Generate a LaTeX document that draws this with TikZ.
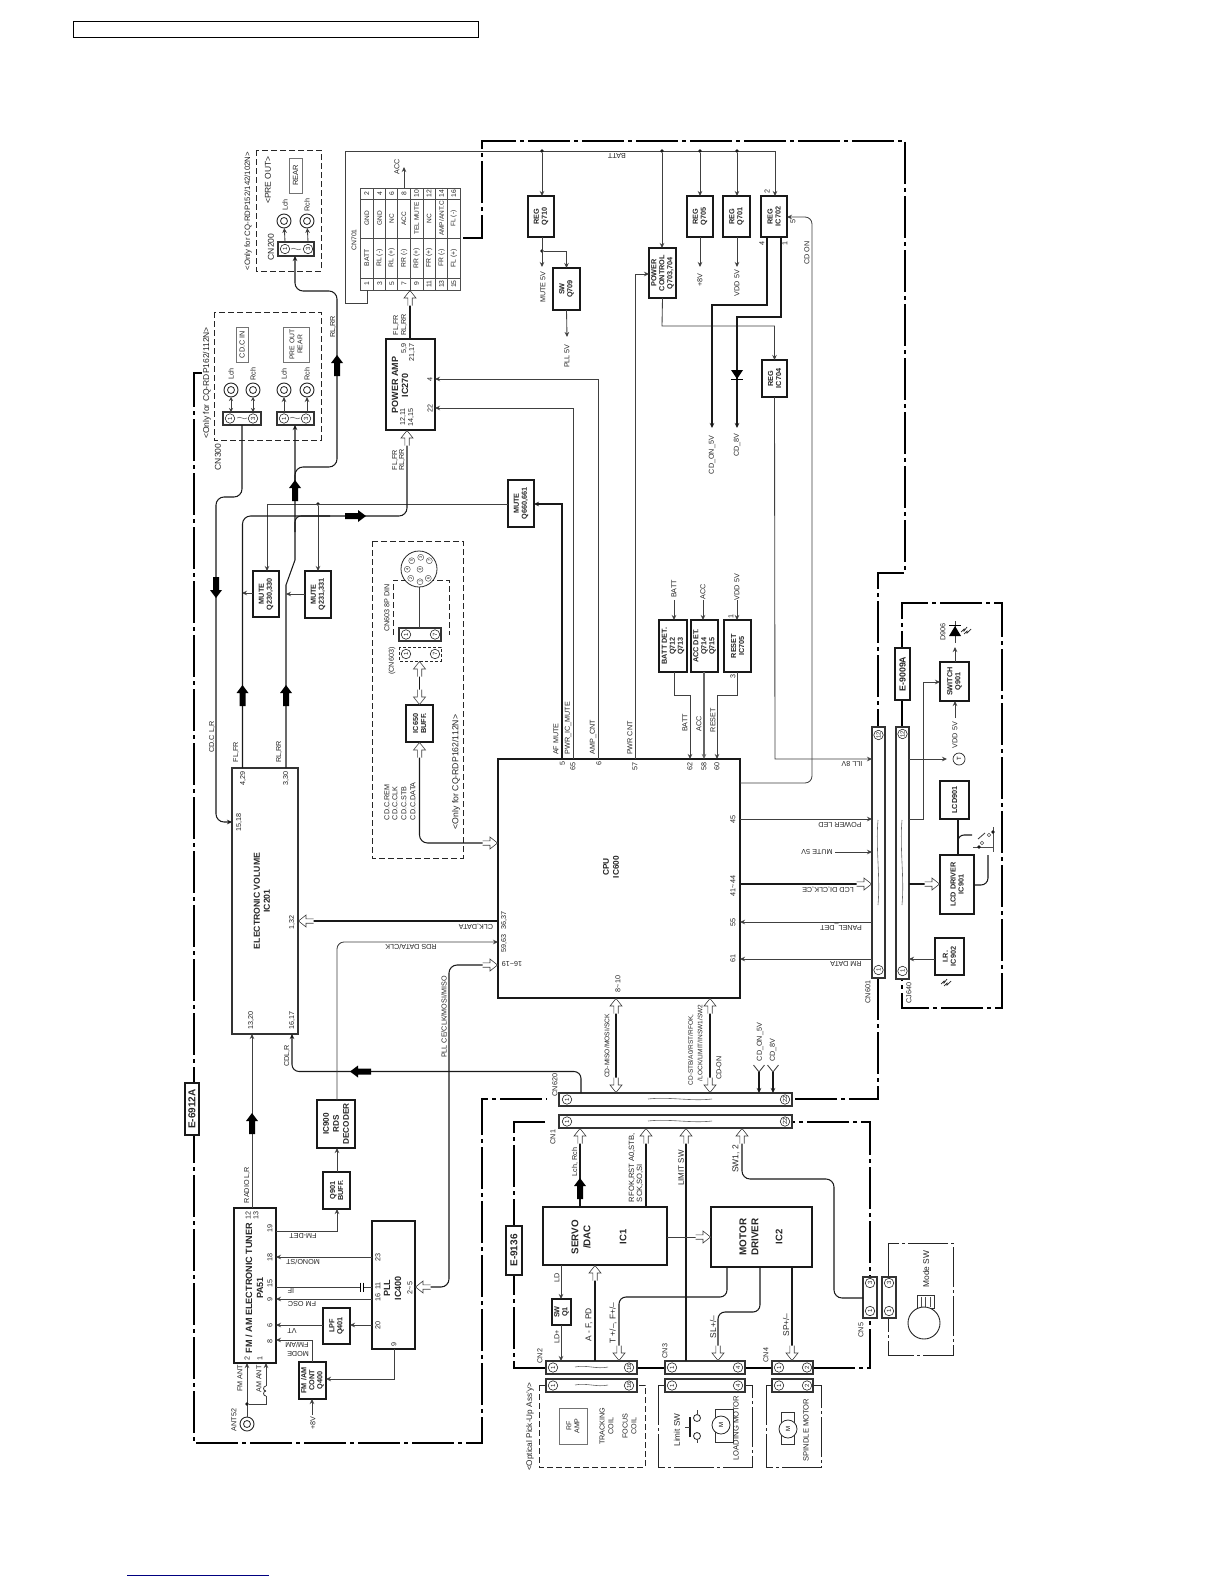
\documentclass[tikz,border=0pt]{standalone}
\usepackage{fontspec}
\setmainfont{Liberation Sans}
\usetikzlibrary{arrows.meta,calc}
\newcommand\FS[2]{\fontsize{#1}{#2}\selectfont}
\definecolor{wgray}{gray}{0.25}
\tikzset{
 txt/.style={font=\FS{7.2}{8},inner sep=0,outer sep=0,align=center,text=black!85},
 vt/.style={txt,rotate=90},
 inv/.style={txt,rotate=180},
 bx/.style={draw=black!90,line width=1.5pt,fill=white,inner sep=0,outer sep=0},
 bxthin/.style={draw=black!80,line width=1.1pt,fill=white,inner sep=0,outer sep=0},
 graybx/.style={draw=black!55,line width=0.9pt,fill=white,inner sep=0,outer sep=0},
 boxt/.style={vt,font=\bfseries\FS{7.3}{8}},
 wr/.style={draw=wgray,line width=0.85pt},
 wk/.style={draw=black!90,line width=1.05pt},
 wg/.style={draw=black!60,line width=1.2pt},
 ar/.style={-{Stealth[length=5pt,width=4.5pt]}},
 frame/.style={draw=black,line width=2.6pt,dash pattern=on 42pt off 4pt on 4pt off 4pt},
 dashb/.style={draw=black!85,line width=1pt,dash pattern=on 6pt off 3pt},
 ddb/.style={draw=black!85,line width=1pt,dash pattern=on 40pt off 3pt on 3pt off 3pt},
 cpinn/.style={circle,draw=black!85,line width=0.6pt,fill=white,minimum size=9.5pt,inner sep=0,outer sep=0,rotate=90,font=\FS{6}{6},text=black!85},
 hollowtip/.style={draw=black!75,line width=0.6pt,fill=white},
 dotn/.style={circle,fill=black!90,minimum size=3.6pt,inner sep=0,outer sep=0},
 wave/.style={draw=black!60,line width=0.6pt},
}
\newcounter{lbn}
\newcommand\LB[4][]{\stepcounter{lbn}\node[vt,#1] (lb\thelbn) at (#2,#3) {#4};}
\newcommand\LI[4][]{\stepcounter{lbn}\node[inv,#1] (lb\thelbn) at (#2,#3) {#4};}
\newcommand\BX[7][bx]{\node[#1,minimum width={#5-#3},minimum height={#6-#4}] (#2) at ({(#3+#5)/2},{(#4+#6)/2}) {};\node[boxt] (#2t) at (#2.center) {#7};}
\newcommand\CP[4]{\node[cpinn] (#1) at (#2,#3) {#4};}
\newcommand\HA[3]{\draw[hollowtip,shift={(#1,#2)},rotate=#3] (-15,2.2)--(-7.5,2.2)--(-7.5,6)--(0,0)--(-7.5,-6)--(-7.5,-2.2)--(-15,-2.2);}
\newcommand\FA[3]{\fill[black,shift={(#1,#2)},rotate=#3] (0,0)--(-8,6)--(-8,3)--(-21,3)--(-21,-3)--(-8,-3)--(-8,-6)--cycle;}
\newcommand\WH[3]{\draw[wave] (#1,#3) .. controls ({#1+(#2-#1)/3},{#3-2.5}) and ({#1+2*(#2-#1)/3},{#3+2.5}) .. (#2,#3);}
\newcommand\WV[3]{\draw[wave] (#3,#1) .. controls ({#3-2.5},{#1+(#2-#1)/3}) and ({#3+2.5},{#1+2*(#2-#1)/3}) .. (#3,#2);}
\newcommand\JK[3]{\node[circle,draw=black!85,line width=0.9pt,fill=white,minimum size=14pt,inner sep=0,outer sep=0] (#1) at (#2,#3) {};\draw[black!85,line width=0.8pt] (#1.center) circle (3.5pt);}
\newcommand\BOLT[2]{\draw[black!85,line width=0.7pt,shift={(#1,#2)}] (0,3)--(3,0)--(3,2)--(7,-2);\draw[black!85,line width=0.7pt,shift={(#1,#2)}] (-3,1)--(0,-2)--(0,0)--(3,-4);}
\begin{document}
\begin{tikzpicture}[x=1pt,y=-1pt]
\useasboundingbox (0,0) rectangle (1224,1584);
\fill[white] (0,0) rectangle (1224,1584);
% header and footer rule
\draw[black,line width=1pt] (73,21.5) rectangle (478,38);
\draw[blue!50!black,line width=1pt] (127,1575)--(269,1575);
% board frames
\draw[frame] (202,373)--(194,373)--(194,1443)--(482,1443)--(482,1099)--(547,1099);
\draw[frame] (463,238)--(482,238)--(482,141)--(905,141)--(905,573)--(878,573)--(878,727);
\draw[frame] (878,978)--(878,1099)--(795,1099);
\draw[frame] (545,1122)--(514,1122)--(514,1368)--(546,1368);
\draw[frame] (637,1368)--(665,1368);
\draw[frame] (745,1368)--(772,1368);
\draw[frame] (813,1368)--(870,1368)--(870,1122)--(792,1122);
\draw[frame] (902,727)--(902,603)--(1002,603)--(1002,1008)--(902,1008)--(902,979);
% board name boxes
\BX{b6912}{185}{1083}{199}{1135}{}
\LB[font=\bfseries\FS{10}{11}]{192}{1109}{E-6912A}
\BX{b9136}{506}{1226}{522}{1275}{}
\LB[font=\bfseries\FS{10}{11}]{514}{1250.5}{E-9136}
\BX{b9009}{895}{648}{910}{700}{}
\LB[font=\bfseries\FS{8.8}{10}]{902.5}{674}{E-9009A}
% option frames
\draw[dashb] (256,150) rectangle (321,271);
\draw[dashb] (214,312) rectangle (321,440);
\draw[dashb] (372,541) rectangle (463,858);
\draw[dashb] (393,635)--(393,580)--(449,580)--(449,635);
\draw[dashb] (539,1385) rectangle (645,1467);
\draw[ddb] (658,1385) rectangle (752,1467);
\draw[ddb] (766,1385) rectangle (821,1467);
\draw[ddb] (888,1243) rectangle (953,1355);
% major blocks
\BX{cpu}{498}{759}{740}{998}{}
\BX[bxthin]{ev}{232}{768}{298}{1034}{}
\BX{pamp}{386}{339}{435}{430}{}
\BX{tuner}{234}{1208}{276}{1363}{}
\BX{pll}{372}{1221}{415}{1349}{}
\BX{servo}{543}{1207}{667}{1265}{}
\BX{motor}{711}{1207}{812}{1267}{}
\BX{regq710}{528}{196}{554}{237}{REG\\Q710}
\BX{swq709}{553}{268}{580}{310}{SW\\Q709}
\BX{pwrc}{649}{248}{676}{298}{POWER\\CONTROL\\Q703,704}
\BX{regq705}{687}{196}{713}{237}{REG\\Q705}
\BX{regq701}{723}{196}{750}{237}{REG\\Q701}
\BX{regic702}{761}{196}{787}{237}{REG\\IC702}
\BX{regic704}{762}{360}{787}{397}{REG\\IC704}
\BX{mute660}{508}{480}{534}{527}{MUTE\\Q660,661}
\BX{mute230}{253}{571}{279}{617}{MUTE\\Q230,330}
\BX{mute231}{305}{571}{331}{618}{MUTE\\Q231,331}
\BX{buff650}{406}{705}{433}{742}{IC650\\BUFF.}
\BX{battdet}{659}{620}{687}{672}{BATT DET.\\Q712\\Q713}
\BX{accdet}{691}{620}{718}{672}{ACC DET.\\Q714\\Q715}
\BX{reset}{724}{620}{751}{672}{RESET\\IC705}
\BX{q901}{323}{1172}{350}{1209}{Q901\\BUFF.}
\BX{rds}{317}{1100}{355}{1148}{}
\LB[font=\bfseries\FS{8.2}{10}]{336}{1124}{IC900\\RDS\\DECODER}
\BX{lpf}{323}{1308}{350}{1344}{LPF\\Q401}
\BX{cont}{299}{1362}{326}{1399}{FM /AM\\CONT\\Q400}
\BX{swq1}{552}{1299}{571}{1325}{SW\\Q1}
\BX{swq901}{940}{662}{969}{701}{SWITCH\\Q901}
\BX{lcd}{940}{781}{969}{819}{LCD901}
\BX{lcddrv}{940}{855}{974}{914}{LCD DRIVER\\IC901}
\BX{ir}{935}{938}{964}{975}{I.R.\\IC902}
% big block captions
\LB[font=\bfseries\FS{8.7}{10}]{257}{901}{ELECTRONIC VOLUME}
\LB[font=\bfseries\FS{8.7}{10}]{267}{901}{IC201}
\LB[font=\bfseries\FS{8.3}{10}]{606}{867}{CPU}
\LB[font=\bfseries\FS{8.3}{10}]{616}{867}{IC600}
\LB[font=\bfseries\FS{9}{10}]{395}{385}{POWER AMP}
\LB[font=\bfseries\FS{9}{10}]{405}{385}{IC270}
\LB[font=\bfseries\FS{9.1}{10}]{249}{1288}{FM / AM ELECTRONIC TUNER}
\LB[font=\bfseries\FS{9}{10}]{260}{1288}{PA51}
\LB[font=\bfseries\FS{9}{10}]{387}{1288}{PLL}
\LB[font=\bfseries\FS{9}{10}]{398}{1288}{IC400}
\LB[font=\bfseries\FS{9.8}{12}]{575}{1237}{SERVO}
\LB[font=\bfseries\FS{9.8}{12}]{587}{1237}{/DAC}
\LB[font=\bfseries\FS{9.5}{12}]{623}{1237}{IC1}
\LB[font=\bfseries\FS{9.9}{12}]{743}{1237}{MOTOR}
\LB[font=\bfseries\FS{9.9}{12}]{755}{1237}{DRIVER}
\LB[font=\bfseries\FS{9.5}{12}]{779}{1237}{IC2}
% CN701 table
\node[draw=black!70,line width=1pt,inner sep=0,outer sep=0,fill=white,minimum width=100pt,minimum height=102pt] (cn701) at (410,239) {};
\foreach \xx in {373.7,385.7,397.7,410.3,423,435.3,447.7} \draw[black!70,line width=0.7pt] (\xx,188)--(\xx,290);
\foreach \yy in {199,238.3,278.3} \draw[black!70,line width=0.7pt] (360,\yy)--(460,\yy);
\foreach \xx/\aa/\bb/\cc/\dd in {366.8/1/BATT/GND/2,379.7/3/RL (-)/GND/4,391.7/5/RL (+)/NC/6,404/7/RR (-)/ACC/8,416.6/9/RR (+)/TEL MUTE/10,429.1/11/FR (+)/NC/12,441.5/13/FR (-)/{AMP/ANT.C}/14,453.8/15/FL (+)/FL (-)/16}{
 \node[vt,font=\FS{6.8}{8}] (ta\aa) at (\xx,284) {\aa};
 \node[vt,font=\FS{6.8}{8}] (tb\aa) at (\xx,258) {\bb};
 \node[vt,font=\FS{6.5}{7}] (tc\aa) at (\xx,218.5) {\cc};
 \node[vt,font=\FS{6.8}{8}] (td\aa) at (\xx,193.5) {\dd};
}
\LB[font=\FS{6.8}{8}]{354}{240}{CN701}
% connectors (long strips)
\BX[bxthin]{cn620}{559}{1093}{792}{1106}{}
\BX[bxthin]{cn1}{559}{1115}{792}{1128}{}
\BX[bxthin]{cn601}{872}{727}{885}{978}{}
\BX[bxthin]{cj640}{896}{727}{909}{979}{}
\BX[bxthin]{cn2}{546}{1361}{637}{1374}{}
\BX[bxthin]{cn2b}{546}{1379}{637}{1392}{}
\BX[bxthin]{cn3}{665}{1361}{745}{1374}{}
\BX[bxthin]{cn3b}{665}{1379}{745}{1392}{}
\BX[bxthin]{cn4}{772}{1361}{813}{1374}{}
\BX[bxthin]{cn4b}{772}{1379}{813}{1392}{}
\BX[bxthin]{cn5}{863}{1277}{877}{1318}{}
\BX[bxthin]{cn5b}{882}{1277}{896}{1318}{}
\BX[bxthin]{cn200}{278}{242}{314}{256}{}
\BX[bxthin]{cn300}{223}{412}{261}{425}{}
\BX[bxthin]{cn300r}{277}{412}{314}{425}{}
\BX[bxthin]{din}{399}{628}{441}{641}{}
\draw[dashb,dash pattern=on 3pt off 2pt] (399,647) rectangle (441,661);
\CP{p1}{567}{1099.5}{1}\CP{p2}{785}{1099.5}{22}
\CP{p3}{567}{1121.5}{1}\CP{p4}{785}{1121.5}{22}
\CP{p5}{878.5}{970}{1}\CP{p6}{878.5}{735}{12}
\CP{p7}{902.5}{971}{1}\CP{p8}{902.5}{734}{12}
\CP{p9}{553}{1367.5}{1}\CP{p10}{629}{1367.5}{16}
\CP{p11}{553}{1385.5}{1}\CP{p12}{629}{1385.5}{16}
\CP{p13}{672}{1367.5}{1}\CP{p14}{738}{1367.5}{4}
\CP{p15}{672}{1385.5}{1}\CP{p16}{738}{1385.5}{4}
\CP{p17}{779}{1367.5}{1}\CP{p18}{807}{1367.5}{2}
\CP{p19}{779}{1385.5}{1}\CP{p20}{807}{1385.5}{2}
\CP{p21}{870}{1311}{1}\CP{p22}{870}{1283}{3}
\CP{p23}{889}{1311}{1}\CP{p24}{889}{1283}{3}
\CP{p25}{285}{249}{1}\CP{p26}{308}{249}{3}
\CP{p27}{230}{418.5}{1}\CP{p28}{253}{418.5}{3}
\CP{p29}{284}{418.5}{1}\CP{p30}{306}{418.5}{3}
\CP{p31}{406}{634.5}{1}\CP{p32}{435}{634.5}{7}
\CP{p33}{406}{654}{1}\CP{p34}{435}{654}{7}
\WH{648}{712}{1099}\WH{648}{712}{1121}
\WV{820}{905}{878}\WV{820}{905}{902}
\WH{575}{608}{1367}\WH{575}{608}{1385}
\WH{291}{301}{249}\WH{237}{247}{418}\WH{290}{300}{418}
% jacks
\JK{j1}{284}{221}\JK{j2}{307}{221}
\JK{j3}{231}{390}\JK{j4}{253}{390}\JK{j5}{284}{390}\JK{j6}{307}{390}
\JK{ant}{247}{1424}
% small boxes inside option frames
\BX[graybx]{rearb}{289}{158}{302}{193}{}
\LB[font=\FS{7.5}{8}]{295.5}{175.5}{REAR}
\BX[graybx]{cdcb}{236}{327}{248}{362}{}
\LB[font=\FS{7.3}{8}]{242}{344.5}{CD.C IN}
\BX[graybx]{preb}{283}{327}{309}{362}{}
\LB[font=\FS{6.8}{8.2}]{296}{344.5}{PRE OUT\\REAR}
\BX[graybx]{rfb}{559}{1408}{587}{1444}{}
\LB[font=\FS{7}{8}]{573}{1426}{RF\\AMP}
% ---- wires ----
\draw[wr,ar] (cn701.south -| 367,0)--(367,303)--(345,303)--(345,151)--(775,151)--(regic702.north -| 775,0);
\node[dotn] (d1) at (542,151) {};\node[dotn] (d2) at (662,151) {};\node[dotn] (d3) at (700,151) {};\node[dotn] (d4) at (737,151) {};
\draw[wr,ar] (d1)--(regq710.north -| d1);
\draw[wr,ar] (d2)--(pwrc.north -| d2);
\draw[wr,ar] (d3)--(regq705.north -| d3);
\draw[wr,ar] (d4)--(regq701.north -| d4);
\coordinate (mute5) at (542,267);\coordinate (pll5) at (567,337);\coordinate (v8) at (700,267);\coordinate (vdd) at (737,267);
\node[dotn] (d5) at (542,251) {};
\draw[wr,ar] (regq710.south -| d5)--(mute5);
\draw[wr,ar] (d5)-|(swq709.north);
\draw[wr,ar] (swq709.south)--(pll5);
\draw[wr,ar] (regq705.south -| v8)--(v8);
\draw[wr,ar] (regq701.south -| vdd)--(vdd);
\draw[wr,ar] (pwrc.south)--(662,326)-|(regic704.north);
\draw[wr,ar] (cpu.north -| 635,0)--(635,274)--(pwrc.west |- 0,274);
\coordinate (cdon5) at (712,428);\coordinate (cd8) at (737,428);
\draw[wk,ar] (regic702.south -| 767,0)--(767,305)--(712,305)--(cdon5);
\draw[wk,ar] (regic702.south -| 781,0)--(781,317)--(737,317)--(cd8);
\fill[black] (731,370)--(743,370)--(737,379)--cycle;
\draw[black,line width=0.9pt] (731,379)--(743,379);
\draw[wr,ar,rounded corners=7pt] (cpu.east |- 0,783)--(812,783)--(812,217)--(regic702.east |- 0,217);
\draw[wr,ar] (regic704.south)--(775,759)--(cn601.west |- 0,759);
\draw[wr,ar] (cpu.north -| 598.5,0)--(598.5,379)--(pamp.east |- 0,379);
\draw[wr,ar] (cpu.north -| 573,0)--(573,408)--(pamp.east |- 0,408);
\draw[wk,ar] (cpu.north -| 562,0)--(562,504)--(mute660.east |- 0,504);
\node[dotn] (d6) at (318,504) {};
\draw[wr,ar] (mute660.west |- 0,504)--(267,504)--(mute230.north -| 267,0);
\draw[wr,ar] (d6)--(mute231.north -| d6);
\draw[wr,ar] (mute230.west |- 0,593)--(242,593);
\draw[wr,ar] (mute231.west |- 0,594)--(286,594);
\draw[wk,line width=1.2pt] (pamp.north -| 410,0)--(cn701.south -| 410,0);
\draw[wk,rounded corners=8pt] (ev.north -| 242.5,0)--(242.5,516)--(407,516)--(pamp.south -| 407,0);
\draw[wk,rounded corners=6pt] (295,532)--(295,516)--(330,516);
\draw[wk,ar] (ev.north -| 286,0)--(286,585)--(295,560)--(cn300r.south -| 295,0);
\draw[wk,ar,rounded corners=8pt] (295,482)--(295,467)--(337,467)--(337,291)--(295,291)--(cn200.south -| 295,0);
\draw[wk,ar,rounded corners=8pt] (cn300.south -| 242,0)--(242,497)--(216,497)--(216,822)--(ev.west |- 0,822);
\draw[wr,ar] (cn200.north -| 285,0)--(j1);
\draw[wr,ar] (cn200.north -| 308,0)--(j2);
\draw[wr,<->,>={Stealth[length=4pt,width=4pt]}] (cn300.north -| 231,0)--(j3);
\draw[wr,<->,>={Stealth[length=4pt,width=4pt]}] (cn300.north -| 253,0)--(j4);
\draw[wr,ar] (cn300r.north -| 284,0)--(j5);
\draw[wr,ar] (cn300r.north -| 307,0)--(j6);
\coordinate (acc) at (404,167);
\draw[wr,ar] (cn701.north -| acc)--(acc);
% tuner
\draw[wr,ar] (tuner.north -| 252,0)--(ev.south -| 252,0);
\draw[wk,ar,rounded corners=7pt] (cn620.north -| 581,0)--(581,1071.5)--(292,1071.5)--(ev.south -| 292,0);
\draw[wr,ar] (tuner.east |- 0,1231)--(337,1231)--(q901.south -| 337,0);
\draw[wr,ar] (q901.north -| 337,0)--(rds.south -| 337,0);
\draw[wr,ar,rounded corners=7pt] (rds.north -| 337,0)--(337,942)--(cpu.west |- 0,942);
\draw[wk] (cpu.west |- 0,921)--(ev.east |- 0,921);
\draw[wk,rounded corners=8pt] (pll.east |- 0,1287)--(449,1287)--(449,965)--(cpu.west |- 0,965);
\draw[wr,ar] (pll.west |- 0,1257)--(tuner.east |- 0,1257);
\draw[wr] (tuner.east |- 0,1287)--(360,1287);\draw[wr] (363.5,1287)--(pll.west |- 0,1287);
\draw[black,line width=1pt] (360,1282.5)--(360,1291.5);\draw[black,line width=1pt] (363.5,1282.5)--(363.5,1291.5);
\draw[wr,ar] (pll.west |- 0,1299)--(tuner.east |- 0,1299);
\draw[wr,ar] (pll.west |- 0,1325)--(lpf.east |- 0,1325);
\draw[wr,ar] (lpf.west |- 0,1325)--(tuner.east |- 0,1325);
\draw[wr,ar] (cont.north -| 312,0)--(312,1340)--(tuner.east |- 0,1340);
\draw[wr,ar] (pll.south -| 394,0)--(394,1379)--(cont.east |- 0,1379);
\coordinate (p8) at (312,1415);
\draw[wr,ar] (p8)--(cont.south -| p8);
\draw[wr,ar] (ant.north)--(tuner.south -| ant);
\node[dotn] (d7) at (247,1404) {};
\draw[wr] (d7)--(266,1404)--(266,1396);
\draw[wr] (266,1396) arc (90:-90:-2.5 and 2.5);
\draw[wr] (266,1391) arc (90:-90:-2.5 and 2.5);
\draw[wr,ar] (266,1386)--(tuner.south -| 266,0);
% CD changer
\draw[wr] (419.5,587)--(din.north -| 419.5,0);
\draw[wk] (419.5,661)--(buff650.north -| 419.5,0);
\draw[wk,rounded corners=8pt] (buff650.south -| 419.5,0)--(419.5,843)--(cpu.west |- 0,843);
\node[circle,draw=black!85,line width=0.8pt,fill=white,minimum size=36pt,inner sep=0,outer sep=0] (dinc) at (419,569) {};
\foreach \xx/\yy/\nn in {411.7/560.7/5,420.7/557.3/3,429.3/560.7/7,407.3/569.3/4,420/569.3/8,410.7/578.3/2,420/581.7/1,428.3/578.3/6}
 \node[circle,draw=black!75,line width=0.4pt,minimum size=6pt,inner sep=0,outer sep=0,rotate=90,font=\FS{3.8}{4},fill=white] (dinp\nn) at (\xx,\yy) {\nn};
% cpu right side
\draw[wr,ar] (cpu.east |- 0,819)--(cn601.west |- 0,819);
\coordinate (mute5b) at (835,852);
\draw[wr,ar] (mute5b)--(cn601.west |- mute5b);
\draw[wk] (cpu.east |- 0,884)--(cn601.west |- 0,884);
\draw[wr,ar] (cn601.west |- 0,922)--(cpu.east |- 0,922);
\draw[wr,ar] (cn601.west |- 0,959)--(cpu.east |- 0,959);
% det blocks
\coordinate (batt1) at (674,600);\coordinate (acc1) at (703,600);\coordinate (vdd1) at (737,600);
\draw[wr,ar] (batt1)--(battdet.north -| batt1);
\draw[wr,ar] (acc1)--(accdet.north -| acc1);
\draw[wr,ar] (vdd1)--(reset.north -| vdd1);
\draw[wr,ar] (battdet.south -| 674,0)--(674,695)--(690,695)--(cpu.north -| 690,0);
\draw[wg,ar] (accdet.south -| 704,0)--(cpu.north -| 704,0);
\draw[wr,ar] (reset.south -| 737,0)--(737,695)--(717,695)--(cpu.north -| 717,0);
% CN620 side
\draw[wk] (cpu.south -| 616,0)--(cn620.north -| 616,0);
\draw[wk] (cpu.south -| 710,0)--(cn620.north -| 710,0);
\coordinate (f1) at (759,1072);\coordinate (f2) at (773,1072);
\draw[wr] (753.5,1065)--(f1)--(764.5,1065);\draw[wr] (767.5,1065)--(f2)--(778.5,1065);
\draw[wk,ar] (f1)--(cn620.north -| f1);
\draw[wk,ar] (f2)--(cn620.north -| f2);
% servo side
\draw[wk] (servo.north -| 580,0)--(cn1.south -| 580,0);
\draw[wk] (servo.north -| 646,0)--(cn1.south -| 646,0);
\draw[wk] (cn3.north -| 686,0)--(cn1.south -| 686,0);
\draw[wk,rounded corners=8pt] (cn5.west |- 0,1298)--(834,1298)--(834,1179)--(742,1179)--(cn1.south -| 742,0);
\draw[wr] (servo.east |- 0,1237)--(motor.west |- 0,1237);
\draw[wr,ar] (servo.south -| 561,0)--(swq1.north -| 561,0);
\draw[wr,ar] (swq1.south -| 561,0)--(cn2.north -| 561,0);
\draw[wk] (cn2.north -| 595,0)--(servo.south -| 595,0);
\draw[wk,rounded corners=7pt] (motor.south -| 727,0)--(727,1297)--(619,1297)--(cn2.north -| 619,0);
\draw[wk,rounded corners=7pt] (motor.south -| 760,0)--(760,1312)--(718,1312)--(cn3.north -| 718,0);
\draw[wk] (motor.south -| 792,0)--(cn4.north -| 792,0);
% E-9009 side
\draw[wr,ar] (cj640.east |- 0,819)--(923,819)--(923,682)--(swq901.west |- 0,682);
\coordinate (lamp) at (947,759);
\draw[wr,ar] (cj640.east |- lamp)--(lamp);
\node[circle,draw=black!85,line width=0.7pt,minimum size=12pt,inner sep=0,outer sep=0,rotate=90,font=\FS{6}{6},fill=white] (lampc) at (959,759) {T};
\draw[wk] (cj640.east |- 0,884)--(lcddrv.west |- 0,884);
\draw[wr,ar] (ir.west |- 0,959)--(cj640.east |- 0,959);
\draw[wk] (lcd.south -| 958,0)--(lcddrv.north -| 958,0);
\draw[wk,rounded corners=6pt] (958,848)--(958,835)--(972,835);
\draw[wk,rounded corners=7pt] (lcddrv.east |- 0,885)--(988,885)--(988,855);
\coordinate (vdd2) at (955,718);
\draw[wr,ar] (vdd2)--(swq901.south -| vdd2);
\coordinate (dio) at (955,647);
\draw[wr,ar] (swq901.north -| dio)--(dio);
\draw[wr] (955,643)--(955,621);
\fill[black] (949,636)--(961,636)--(955,626)--cycle;
\draw[black,line width=0.9pt] (949,625)--(961,625);
\BOLT{964}{631}
\BOLT{944}{983}
% mode switch
\draw[wr] (978,839)--(985,833);
\draw[black!70,line width=0.6pt] (973,847)--(993,847);\draw[black!70,line width=0.6pt] (993,827)--(993,852);
\node[dotn] (d8) at (979,847) {};\node[dotn] (d9) at (993,832) {};
\draw[black!70,line width=0.5pt] (982,843) circle (1.8pt);\draw[black!70,line width=0.5pt] (989,835) circle (1.8pt);
% limit SW, motors
\node[circle,draw=black!85,line width=0.8pt,minimum size=7pt,inner sep=0] (ls1) at (697,1418) {};
\node[circle,draw=black!85,line width=0.8pt,minimum size=7pt,inner sep=0] (ls2) at (697,1436) {};
\draw[wr] (ls1.north)--(697,1410);\draw[wr] (ls2.south)--(697,1443);
\draw[wk] (690,1417)--(690,1437);\draw[wr] (685,1427)--(690,1427);
\draw[black!80,line width=0.8pt] (715,1409) rectangle (733,1442);
\node[circle,draw=black!85,line width=0.8pt,fill=white,minimum size=18pt,inner sep=0,rotate=90,font=\FS{6}{6}] (m1) at (721,1425) {M};
\draw[black!80,line width=0.8pt] (781,1412) rectangle (794,1444);
\node[circle,draw=black!85,line width=0.8pt,fill=white,minimum size=18pt,inner sep=0,rotate=90,font=\FS{6}{6}] (m2) at (788,1429) {M};
\draw[black!80,line width=0.9pt] (917,1295) rectangle (934,1308);
\foreach \xx in {921,925.5,930} \draw[black!70,line width=0.6pt] (\xx,1297)--(\xx,1307);
\node[circle,draw=black!85,line width=0.9pt,fill=white,minimum size=32pt,inner sep=0] (msw) at (924,1323) {};
% fat arrows
\FA{337}{355}{90}\FA{295}{480}{90}\FA{366}{516}{0}\FA{216}{598}{270}
\FA{242.5}{685}{90}\FA{286}{685}{90}\FA{252}{1113}{90}\FA{350}{1071.5}{180}\FA{580}{1178}{90}
% hollow arrows
\HA{410}{290.5}{90}\HA{407}{430.5}{90}\HA{298.5}{921}{180}\HA{497.5}{843}{0}\HA{497.5}{965}{0}
\HA{415.5}{1287}{180}\HA{419.5}{742.5}{90}\HA{419.5}{661.5}{90}\HA{419.5}{704.5}{270}
\HA{616}{998.5}{90}\HA{616}{1092.5}{270}\HA{710}{998.5}{90}\HA{710}{1092.5}{270}
\HA{580}{1128.5}{90}\HA{646}{1128.5}{90}\HA{686}{1128.5}{90}\HA{742}{1128.5}{90}
\HA{595}{1265.5}{90}\HA{619}{1360.5}{270}\HA{718}{1360.5}{270}\HA{792}{1360.5}{270}
\HA{710.5}{1237}{0}\HA{871.5}{884}{0}\HA{939.5}{884}{0}
% ---- labels ----
\LB[font=\FS{7.8}{9}]{248}{211}{<Only for CQ-RDP152/142/102N>}
\LB[font=\FS{8.5}{9}]{268}{180}{<PRE OUT>}
\LB{285}{205}{Lch}\LB{307}{205}{Rch}
\LB[font=\FS{8.5}{9}]{271}{247}{CN200}
\LB[font=\FS{8.5}{9}]{207}{383}{<Only for CQ-RDP162/112N>}
\LB{231}{374}{Lch}\LB{253}{374}{Rch}\LB{284}{374}{Lch}\LB{307}{374}{Rch}
\LB[font=\FS{8.5}{9}]{218}{457}{CN300}
\LB{333}{327}{RL,RR}
\LB{397}{167}{ACC}
\LB{396}{325}{FL,FR}\LB{404}{325}{RL,RR}
\LB{395}{460}{FL,FR}\LB{402}{460}{RL,RR}
\LB{404}{348}{5,9}\LB{412}{352}{21,17}\LB{403}{417}{12,11}\LB{411}{417}{14,15}
\LB{430}{379}{4}\LB{430}{408}{22}
\LI{617}{156}{BATT}
\LB{543}{287}{MUTE 5V}\LB{567}{356}{PLL 5V}\LB{700}{280}{+8V}\LB{737}{283}{VDD 5V}
\LB{712}{455}{CD\_ON\_5V}\LB{737}{445}{CD\_8V}\LB{807}{253}{CD ON}
\LB{767}{191}{2}\LB{762}{243}{4}\LB{785}{243}{1}\LB{793}{221}{5}
\LB{212}{737}{CD.C L,R}
\LB{236}{752}{FL,FR}\LB{279}{752}{RL,RR}
\LB{243}{778}{4,29}\LB{286}{778}{3,30}\LB{239}{822}{15,18}\LB{292}{922}{1,32}
\LB{251}{1020}{13,20}\LB{292}{1020}{16,17}
\LB{287}{1056}{CDL,R}
\LB{387}{608}{CN603 8P DIN}\LB{392}{661}{(CN603)}
\node[vt,anchor=west] (cda) at (387,820) {CD.C.REM};
\node[vt,anchor=west] (cdb) at (395,820) {CD.C.CLK};
\node[vt,anchor=west] (cdc) at (404,820) {CD.C.STB};
\node[vt,anchor=west] (cdd) at (413,820) {CD.C.DATA};
\LB[font=\FS{8.7}{9}]{456}{772}{<Only for CQ-RDP162/112N>}
\LI{476}{927}{CLK,DATA}\LI{411}{947}{RDS DATA/CLK}
\LB{504}{943}{59,63}\LB{504}{920}{36,37}\LI{512}{964}{16\textasciitilde19}
\LB{618}{984}{8\textasciitilde10}
\LB{556}{739}{AF MUTE}\LB{568}{728}{PWR\_IC\_MUTE}\LB{593}{737}{AMP\_CNT}\LB{630}{738}{PWR CNT}
\LB{562.5}{763}{5}\LB{573}{766}{65}\LB{599}{763}{6}\LB{635}{766}{57}\LB{690}{766}{62}\LB{704}{766}{58}\LB{717}{766}{60}
\LB{674}{589}{BATT}\LB{703}{592}{ACC}\LB{737}{587}{VDD 5V}
\LB{731}{616}{1}\LB{733}{676}{3}
\LB{685}{723}{BATT}\LB{699}{724}{ACC}\LB{713}{720}{RESET}
\LB{733}{819}{45}\LB{733}{886}{41\textasciitilde44}\LB{733}{922}{55}\LB{733}{958}{61}
\LI{852}{764}{ILL 8V}\LI{840}{825}{POWER LED}\LI{817}{852}{MUTE 5V}\LI{828}{890}{LCD DI,CLK,CE}\LI{841}{927}{PANEL\_DET}\LI{846}{964}{RM DATA}
\LB{868}{992}{CN601}\LB{909}{993}{CJ640}
\LB{943}{632}{D906}\LB{955}{735}{VDD 5V}
% CN620 labels
\LB{555}{1085}{CN620}\LB{553}{1137}{CN1}
\LB[font=\FS{6.7}{8}]{607}{1046}{CD-MISO/MOSI/SCK}
\LB[font=\FS{6.5}{8}]{691}{1050}{CD-STB/A0/RST/RFOK,}\LB[font=\FS{6.5}{8}]{700}{1043}{/LOCK/LIMIT/INSW1/SW2}\LB{719}{1068}{CD-ON}
\LB{760}{1042}{CD\_ON\_5V}\LB{773}{1050}{CD\_8V}
% tuner labels
\LB{247}{1185}{RADIO L,R}
\LB{248}{1215}{12}\LB{256}{1215}{13}\LB{247}{1358}{2}\LB{260}{1358}{1}
\LB{270}{1228}{19}\LB{270}{1257}{18}\LB{270}{1283}{15}\LB{270}{1299}{9}\LB{270}{1325}{6}\LB{270}{1341}{8}
\LI{303}{1236}{FM-DET}\LI{303}{1262}{MONO/ST}\LI{291}{1291}{IF}\LI{302}{1304}{FM OSC}\LI{292}{1331}{VT}
\LI{297}{1345}{FM/AM}\LI{298}{1354}{MODE}
\LB{378}{1257}{23}\LB{378}{1286}{11}\LB{378}{1297}{16}\LB{378}{1325}{20}\LB{394}{1344}{9}\LB{410}{1288}{2\textasciitilde5}
\LB{444}{1017}{PLL CE/CLK/MOSI/MISO}
\LB{313}{1423}{+8V}\LB{234}{1420}{ANT52}\LB{240}{1378}{FM ANT}\LB{259}{1379}{AM ANT}
% servo labels
\LB{575}{1162}{Lch, Rch}
\node[vt,anchor=west,font=\FS{7.6}{8}] (rf1) at (632,1202) {RFOK,RST A0,STB,};
\node[vt,anchor=west,font=\FS{7.6}{8}] (rf2) at (640,1202) {SCK,SO,SI};
\LB[font=\FS{8}{9}]{681}{1168}{LIMIT SW}\LB[font=\FS{8.5}{9}]{736}{1159}{SW1, 2}
\LB{557}{1278}{LD}\LB{557}{1337}{LD+}
\LB[font=\FS{8.4}{9}]{589}{1325}{A - F, PD}\LB[font=\FS{8.4}{9}]{613}{1323}{T +/--, F+/--}\LB[font=\FS{8.4}{9}]{713}{1327}{SL+/--}\LB[font=\FS{8.4}{9}]{786}{1325}{SP+/--}
\LB{540}{1356}{CN2}\LB{665}{1351}{CN3}\LB{766}{1355}{CN4}
\LB{861}{1330}{CN5}
\LB[font=\FS{8.2}{9}]{530}{1427}{<Optical Pick-Up Ass'y>}
\LB[font=\FS{7.2}{8.8}]{606.5}{1426}{TRACKING\\COIL}
\LB[font=\FS{7.2}{8.8}]{629.5}{1426}{FOCUS\\COIL}
\LB[font=\FS{8.2}{9}]{677}{1430}{Limit SW}
\LB[font=\FS{7.6}{9}]{736}{1428}{LOADING MOTOR}
\LB[font=\FS{7.6}{9}]{806}{1430}{SPINDLE MOTOR}
\LB[font=\FS{8.4}{9}]{926}{1269}{Mode SW}
\end{tikzpicture}
\end{document}
